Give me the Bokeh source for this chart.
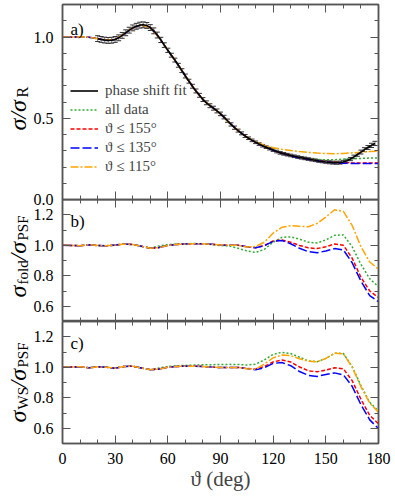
import numpy as np
from bokeh.plotting import figure
from bokeh.layouts import column, row
from bokeh.models import (ColumnDataSource, Whisker, TeeHead, Legend, LegendItem,
                          LinearAxis, FixedTicker, PrintfTickFormatter, Label, Range1d)
from bokeh.core.properties import value
from bokeh.embed import file_html
from bokeh.resources import INLINE

# ---------------- data ----------------
theta = list(range(0, 181, 5))

# phase shift fit data (panel a)
fit_deg = list(range(20, 179, 2))
fit_val = [0.990, 0.985, 0.981, 0.979, 0.980, 0.985, 0.995, 1.010, 1.026, 1.042,
           1.056, 1.066, 1.073, 1.075, 1.071, 1.058, 1.038, 1.012, 0.982, 0.950,
           0.918, 0.888, 0.858, 0.826, 0.793, 0.760, 0.728, 0.697, 0.668, 0.641,
           0.615, 0.595, 0.577, 0.562, 0.545, 0.527, 0.507, 0.485, 0.462, 0.442,
           0.424, 0.407, 0.391, 0.377, 0.364, 0.352, 0.341, 0.331, 0.322, 0.313,
           0.304, 0.295, 0.287, 0.281, 0.276, 0.271, 0.266, 0.261, 0.257, 0.253,
           0.249, 0.245, 0.241, 0.237, 0.234, 0.231, 0.229, 0.227, 0.226, 0.227,
           0.231, 0.238, 0.249, 0.262, 0.277, 0.292, 0.307, 0.320, 0.333, 0.345]
fit_err = [0.018, 0.018, 0.018, 0.018, 0.018, 0.018, 0.018, 0.018, 0.018, 0.018,
           0.018, 0.018, 0.018, 0.018, 0.018, 0.018, 0.018, 0.018, 0.016, 0.014,
           0.013, 0.012, 0.012, 0.012, 0.012, 0.012, 0.012, 0.012, 0.012, 0.012,
           0.012, 0.012, 0.012, 0.012, 0.012, 0.011, 0.011, 0.010, 0.010, 0.010,
           0.009, 0.009, 0.009, 0.008, 0.008, 0.008, 0.008, 0.008, 0.008, 0.008,
           0.008, 0.008, 0.008, 0.008, 0.008, 0.008, 0.008, 0.008, 0.008, 0.008,
           0.008, 0.008, 0.008, 0.008, 0.008, 0.008, 0.009, 0.009, 0.009, 0.009,
           0.010, 0.010, 0.010, 0.011, 0.011, 0.012, 0.012, 0.012, 0.013, 0.013]

# panel a: sigma / sigma_R
a_all = [1.000, 0.999, 1.001, 0.998, 0.990, 0.980, 0.985, 1.018, 1.056, 1.074,
         1.058, 0.997, 0.918, 0.842, 0.760, 0.682, 0.615, 0.570, 0.527, 0.473,
         0.424, 0.384, 0.352, 0.326, 0.304, 0.285, 0.271, 0.260, 0.251, 0.246,
         0.244, 0.245, 0.248, 0.251, 0.253, 0.255, 0.256]
a_155 = [1.000, 0.999, 1.001, 0.998, 0.990, 0.980, 0.985, 1.018, 1.056, 1.074,
         1.058, 0.997, 0.918, 0.842, 0.760, 0.682, 0.615, 0.570, 0.527, 0.473,
         0.424, 0.384, 0.352, 0.326, 0.303, 0.284, 0.270, 0.258, 0.249, 0.240,
         0.233, 0.229, 0.226, 0.225, 0.225, 0.225, 0.225]
a_135 = [1.000, 0.999, 1.001, 0.998, 0.990, 0.980, 0.985, 1.018, 1.056, 1.074,
         1.058, 0.997, 0.918, 0.842, 0.760, 0.682, 0.615, 0.570, 0.527, 0.473,
         0.424, 0.384, 0.352, 0.326, 0.303, 0.284, 0.269, 0.257, 0.248, 0.239,
         0.231, 0.226, 0.223, 0.222, 0.221, 0.221, 0.221]
a_115 = [1.000, 0.999, 1.001, 0.998, 0.990, 0.980, 0.985, 1.018, 1.056, 1.074,
         1.058, 0.997, 0.918, 0.842, 0.760, 0.682, 0.615, 0.570, 0.527, 0.473,
         0.424, 0.384, 0.355, 0.333, 0.318, 0.309, 0.301, 0.295, 0.290, 0.286,
         0.283, 0.282, 0.283, 0.287, 0.291, 0.295, 0.298]

# panel b: sigma_fold / sigma_PSF
b_all = [1.000, 0.999, 0.997, 1.004, 0.998, 0.997, 1.001, 1.008, 1.005, 0.993,
         0.982, 0.995, 1.005, 1.008, 1.010, 1.011, 1.010, 1.005, 0.998, 0.995,
         0.980, 0.963, 0.953, 0.973, 1.020, 1.052, 1.055, 1.040, 1.020, 1.015,
         1.035, 1.065, 1.068, 0.990, 0.875, 0.780, 0.728]
b_155 = [1.000, 0.999, 0.997, 1.004, 0.998, 0.997, 1.001, 1.008, 1.005, 0.993,
         0.980, 0.985, 0.998, 1.005, 1.008, 1.010, 1.010, 1.006, 1.002, 1.000,
         1.000, 0.990, 0.984, 0.998, 1.028, 1.035, 1.020, 0.999, 0.983, 0.978,
         0.990, 1.008, 1.000, 0.915, 0.790, 0.700, 0.657]
b_135 = [1.000, 0.999, 0.997, 1.004, 0.998, 0.997, 1.001, 1.008, 1.005, 0.993,
         0.980, 0.985, 0.998, 1.005, 1.008, 1.010, 1.010, 1.006, 1.002, 1.000,
         1.000, 0.990, 0.984, 0.997, 1.026, 1.031, 1.010, 0.980, 0.958, 0.951,
         0.962, 0.978, 0.970, 0.885, 0.765, 0.670, 0.630]
b_115 = [1.000, 0.999, 0.997, 1.004, 0.998, 0.997, 1.001, 1.008, 1.005, 0.993,
         0.980, 0.985, 0.998, 1.005, 1.008, 1.010, 1.010, 1.006, 1.002, 1.000,
         1.000, 0.988, 0.992, 1.020, 1.080, 1.118, 1.128, 1.124, 1.121, 1.143,
         1.185, 1.233, 1.222, 1.130, 0.990, 0.890, 0.843]

# panel c: sigma_WS / sigma_PSF
c_all = [1.000, 1.002, 1.003, 0.996, 1.003, 1.000, 0.994, 1.005, 1.007, 0.995,
         0.984, 0.995, 1.005, 1.010, 1.012, 1.014, 1.016, 1.017, 1.018, 1.019,
         1.018, 1.015, 1.020, 1.048, 1.085, 1.098, 1.090, 1.066, 1.042, 1.036,
         1.058, 1.092, 1.090, 1.005, 0.880, 0.770, 0.713]
c_155 = [1.000, 1.002, 1.003, 0.996, 1.003, 1.000, 0.994, 1.005, 1.007, 0.995,
         0.984, 0.988, 1.000, 1.005, 1.007, 1.007, 1.005, 1.001, 0.998, 0.998,
         0.999, 0.992, 0.987, 1.005, 1.035, 1.047, 1.035, 1.002, 0.977, 0.970,
         0.982, 0.997, 0.990, 0.912, 0.790, 0.685, 0.629]
c_135 = [1.000, 1.002, 1.003, 0.996, 1.003, 1.000, 0.994, 1.005, 1.007, 0.995,
         0.984, 0.988, 1.000, 1.005, 1.007, 1.007, 1.005, 1.001, 0.998, 0.998,
         0.999, 0.991, 0.984, 0.997, 1.025, 1.031, 1.010, 0.972, 0.947, 0.940,
         0.952, 0.963, 0.950, 0.875, 0.755, 0.655, 0.598]
c_115 = [1.000, 1.002, 1.003, 0.996, 1.003, 1.000, 0.994, 1.005, 1.007, 0.995,
         0.984, 0.988, 1.000, 1.005, 1.007, 1.007, 1.005, 1.001, 0.998, 0.998,
         0.999, 0.990, 0.987, 1.022, 1.062, 1.080, 1.076, 1.056, 1.039, 1.036,
         1.058, 1.092, 1.088, 1.000, 0.872, 0.765, 0.705]

x_major = [0, 30, 60, 90, 120, 150, 180]
x_minor = list(range(0, 181, 10))
a_major = [0.0, 0.5, 1.0]
a_minor = [round(0.1 * i, 1) for i in range(13)]
bc_major = [0.6, 0.8, 1.0, 1.2]
bc_minor = [round(0.5 + 0.1 * i, 1) for i in range(9)]

legend_labels = ["phase shift fit", "all data", "ϑ ≤ 155°", "ϑ ≤ 135°", "ϑ ≤ 115°"]
x_title = "ϑ (deg)"

# ---------------- style ----------------
FONT = "Liberation Serif"
AX = "#555555"
STYLES = [("#33aa33", "2 2"), ("#ff0000", "4 2"), ("#0000ff", "9 3"), ("#ffa500", "8 2 2 2")]
TOTAL_H = 494


def style_axis(ax, show_labels):
    ax.axis_line_color = AX
    ax.axis_line_width = 1.5
    ax.major_tick_in = 8
    ax.major_tick_out = 0
    ax.minor_tick_in = 4
    ax.minor_tick_out = 0
    ax.major_tick_line_color = AX
    ax.minor_tick_line_color = AX
    ax.major_tick_line_width = 1
    ax.minor_tick_line_width = 1
    if show_labels:
        ax.major_label_text_font = FONT
        ax.major_label_text_font_size = "16px"
        ax.major_label_text_color = "black"
        ax.major_label_standoff = 9
    else:
        ax.major_label_text_font_size = "0px"
        ax.major_label_text_color = None
        ax.major_label_standoff = 0


def make_fig(frame_h, y0, y1, ymaj, ymin, top, bottom, xlabels):
    p = figure(frame_width=316, frame_height=frame_h,
               x_range=Range1d(0, 180), y_range=Range1d(y0, y1),
               output_backend="svg", toolbar_location=None,
               x_axis_location=None, y_axis_location=None,
               min_border_left=32, min_border_right=15,
               min_border_top=top, min_border_bottom=bottom)
    p.xgrid.visible = False
    p.ygrid.visible = False
    p.outline_line_color = AX
    p.outline_line_width = 1.5
    xt = FixedTicker(ticks=x_major, minor_ticks=x_minor)
    yt = FixedTicker(ticks=ymaj, minor_ticks=ymin)
    left = LinearAxis(ticker=yt, formatter=PrintfTickFormatter(format="%.1f"))
    style_axis(left, True)
    p.add_layout(left, "left")
    right = LinearAxis(ticker=yt)
    style_axis(right, False)
    p.add_layout(right, "right")
    above = LinearAxis(ticker=xt)
    style_axis(above, False)
    p.add_layout(above, "above")
    below = LinearAxis(ticker=xt)
    style_axis(below, xlabels)
    if xlabels:
        below.axis_label = x_title
        below.axis_label_text_font = FONT
        below.axis_label_text_font_size = "21px"
        below.axis_label_text_font_style = "normal"
        below.axis_label_standoff = 0
    p.add_layout(below, "below")
    return p


def add_label(p, x, y, text, size):
    p.add_layout(Label(x=x, y=y, x_units="screen", y_units="screen", text=text,
                       text_font=FONT, text_font_size=size, text_color="black",
                       text_align="left", text_baseline="alphabetic"))


# ---------------- panel a ----------------
pa = make_fig(195, 0.0, 1.2, a_major, a_minor, 4, 10, False)
rends = []
for ys, (col, dash) in zip([a_all, a_155, a_135, a_115], STYLES):
    rends.append(pa.line(theta, ys, line_color=col, line_dash=dash, line_width=1.5))

src = ColumnDataSource(dict(x=fit_deg, y=fit_val,
                            lo=[v - e for v, e in zip(fit_val, fit_err)],
                            hi=[v + e for v, e in zip(fit_val, fit_err)]))
pa.add_layout(Whisker(source=src, base="x", lower="lo", upper="hi",
                      line_color="#8a8a8a", line_width=1.2,
                      upper_head=TeeHead(size=5, line_color="#333333", line_width=1),
                      lower_head=TeeHead(size=5, line_color="#333333", line_width=1)))
r_fit = pa.line("x", "y", source=src, line_color="black", line_width=1.6)

legend = Legend(items=[LegendItem(label=lab, renderers=[r])
                       for lab, r in zip(legend_labels, [r_fit] + rends)],
                location=(8, 24), orientation="vertical",
                background_fill_alpha=0, border_line_alpha=0,
                padding=0, margin=0, spacing=2,
                glyph_height=15, glyph_width=28, label_height=15,
                label_standoff=7, label_text_font=FONT, label_text_font_size="15px")
pa.add_layout(legend)
add_label(pa, 8, 170, "a)", "17px")

# ---------------- panel b ----------------
pb = make_fig(122, 0.5, 1.3, bc_major, bc_minor, 0, 0, False)
pb.margin = (-10, 0, 0, 0)
pb.border_fill_alpha = 0
pb.background_fill_alpha = 0
for ys, (col, dash) in zip([b_all, b_155, b_135, b_115], STYLES):
    pb.line(theta, ys, line_color=col, line_dash=dash, line_width=1.5)
add_label(pb, 8, 100, "b)", "17px")

# ---------------- panel c ----------------
pc = make_fig(122, 0.5, 1.3, bc_major, bc_minor, 0, 51, True)
for ys, (col, dash) in zip([c_all, c_155, c_135, c_115], STYLES):
    pc.line(theta, ys, line_color=col, line_dash=dash, line_width=1.5)
add_label(pc, 8, 100, "c)", "17px")

# ---------------- y-axis titles (own strip at left) ----------------
ylab = figure(width=30, height=TOTAL_H, x_range=Range1d(0, 30), y_range=Range1d(0, TOTAL_H),
              output_backend="svg", toolbar_location=None,
              x_axis_location=None, y_axis_location=None, min_border=0)
ylab.xgrid.visible = False
ylab.ygrid.visible = False
ylab.outline_line_color = None

# (text, window-y of start, x position, size, style)
title_parts = [
    ("σ/σ", 130, 17, "24px", "italic"), ("R", 97, 22, "16px", "normal"),
    ("σ", 297, 17, "24px", "italic"), ("fold", 284, 22, "15px", "normal"),
    ("/σ", 260, 17, "24px", "italic"), ("PSF", 240, 22, "15px", "normal"),
    ("σ", 422, 17, "24px", "italic"), ("WS", 409, 22, "15px", "normal"),
    ("/σ", 387, 17, "24px", "italic"), ("PSF", 367, 22, "15px", "normal"),
]
for txt, wy, bx, size, style in title_parts:
    ylab.text(x=[bx], y=[TOTAL_H - wy], text=[txt], angle=np.pi / 2,
              text_font=value(FONT), text_font_size=value(size),
              text_font_style=style, text_color="black",
              text_align="left", text_baseline="alphabetic")

layout = row(ylab, column(pa, pb, pc, spacing=0), spacing=0)
open("out.html", "w").write(file_html(layout, INLINE))
